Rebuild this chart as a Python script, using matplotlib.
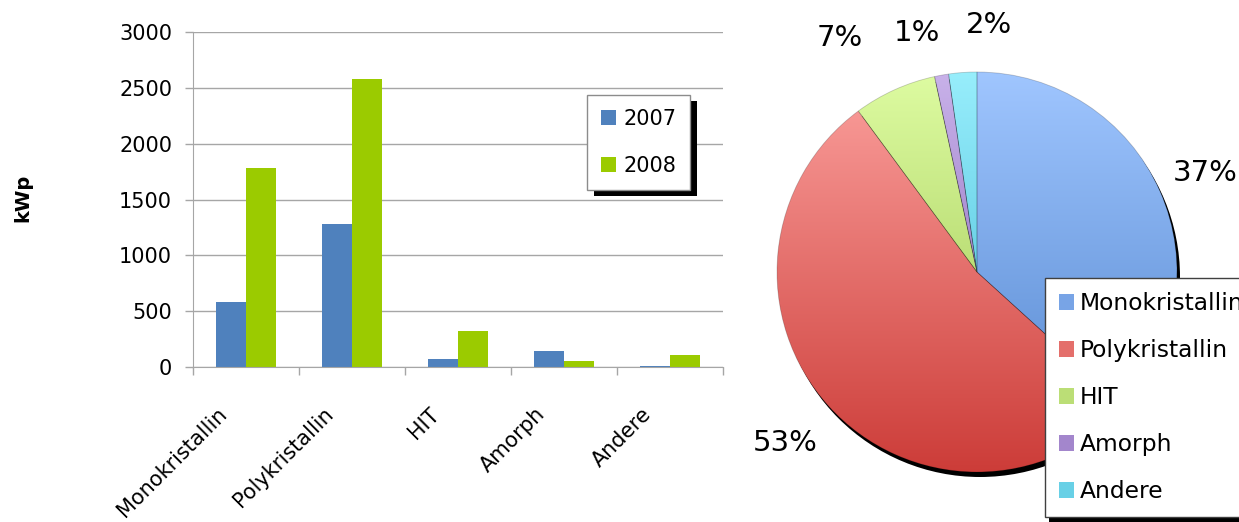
import numpy as np
import matplotlib
matplotlib.use("Agg")
import matplotlib.pyplot as plt
from matplotlib.colors import LinearSegmentedColormap, to_rgb
from matplotlib.patches import Rectangle, Circle, Patch
from matplotlib.transforms import ScaledTranslation

# Data
categories = ["Monokristallin", "Polykristallin", "HIT", "Amorph", "Andere"]
years = ["2007", "2008"]
kwp_2007 = [580, 1280, 72, 145, 10]
kwp_2008 = [1780, 2575, 325, 55, 110]
y_ticks = [0, 500, 1000, 1500, 2000, 2500, 3000]

# Styles
bar_colors = ["#4F81BD", "#9BCB00"]
pie_top = ["#A0C6FF", "#FCA19E", "#DEFCA2", "#C9B2EA", "#98EEFC"]
pie_bottom = ["#4F83CC", "#CC3C38", "#98C04A", "#7C5AAE", "#38B2D0"]
pct_pos = [(1.14, 0.495), (-0.96, -0.855), (-0.685, 1.17), (-0.30, 1.195), (0.06, 1.235)]
grey = "#A6A6A6"

plt.rcParams["font.family"] = ["DejaVu Sans"]

W, H = 1239, 522
fig = plt.figure(figsize=(W / 100, H / 100), dpi=100)

# ---- bar chart
ax = fig.add_axes([193 / W, 155 / H, 530 / W, 335 / H])
x = np.arange(len(categories))
bw = 0.286
ax.bar(x - bw / 2, kwp_2007, bw, color=bar_colors[0], label=years[0])
ax.bar(x + bw / 2, kwp_2008, bw, color=bar_colors[1], label=years[1])
ax.set_xlim(-0.5, len(categories) - 0.5)
ax.set_ylim(0, 3000)
ax.set_yticks(y_ticks)
ax.yaxis.grid(True, color=grey, lw=1)
ax.set_axisbelow(True)
for s in ["top", "right"]:
    ax.spines[s].set_visible(False)
for s in ["left", "bottom"]:
    ax.spines[s].set_color(grey)
ax.set_xticks(np.arange(len(categories) + 1) - 0.5)
ax.set_xticklabels([])
ax.set_xticks(x, categories, minor=True)
ax.tick_params(axis="x", which="major", length=6, width=1, color=grey)
ax.tick_params(axis="x", which="minor", length=0, labelsize=15, pad=0)
ax.tick_params(axis="y", length=6, width=1, color=grey, labelsize=15, pad=9)
for lbl in ax.get_xticklabels(minor=True):
    lbl.set_rotation(45)
    lbl.set_ha("right")
    lbl.set_va("center")
    lbl.set_rotation_mode("anchor")
    lbl.set_transform(lbl.get_transform()
                      + ScaledTranslation(-22 / 100, -44 / 100, fig.dpi_scale_trans))

fig.text(23 / W, 1 - 198 / H, "kWp", rotation=90, ha="center", va="center",
         fontsize=14, fontweight="bold")

leg = ax.legend(loc="upper left", bbox_to_anchor=(587 / W, 1 - 95 / H),
                bbox_transform=fig.transFigure, fontsize=15, fancybox=False,
                edgecolor="#8C8C8C", framealpha=1, borderpad=0.66,
                handlelength=0.72, handleheight=0.72, handletextpad=0.38,
                labelspacing=1.3, borderaxespad=0)

# ---- pie chart
pax = fig.add_axes([777 / W, 50 / H, 400 / W, 400 / H])
wedges, _ = pax.pie(kwp_2008, startangle=90, counterclock=False, radius=1,
                    wedgeprops=dict(linewidth=0.6, edgecolor=(0, 0, 0, 0.2)))
pax.add_patch(Circle((0.015, -0.025), 1.0, fc="black", ec="none", zorder=-1,
                     clip_on=False))
grad = np.linspace(0, 1, 256).reshape(-1, 1)
for wdg, c0, c1 in zip(wedges, pie_bottom, pie_top):
    cmap = LinearSegmentedColormap.from_list("g", [c0, c1])
    im = pax.imshow(grad, cmap=cmap, extent=(-1.01, 1.01, -1.01, 1.01),
                    origin="lower", aspect="auto", zorder=0.5,
                    interpolation="bilinear")
    im.set_clip_path(wdg)
    wdg.set_facecolor("none")
pax.set_xlim(-1, 1)
pax.set_ylim(-1, 1)
pax.set_aspect("equal")
pax.axis("off")

total = sum(kwp_2008)
for v, (px, py) in zip(kwp_2008, pct_pos):
    pax.text(px, py, f"{100 * v / total:.0f}%", fontsize=21,
             ha="center", va="center")

handles = [Patch(facecolor=tuple((a + b) / 2 for a, b in zip(to_rgb(c0), to_rgb(c1))))
           for c0, c1 in zip(pie_bottom, pie_top)]
pleg = pax.legend(handles, categories, loc="upper left",
                  bbox_to_anchor=(1045 / W, 1 - 278 / H),
                  bbox_transform=fig.transFigure, fontsize=16.8, fancybox=False,
                  edgecolor="#404040", framealpha=1, borderpad=0.6,
                  handlelength=0.65, handleheight=0.65, handletextpad=0.25,
                  labelspacing=1.03, borderaxespad=0)

# legend shadows
fig.canvas.draw()
for lg, host, (ox, oy) in [(leg, ax, (7, 6)), (pleg, pax, (4, 5))]:
    bb = lg.get_window_extent()
    host.add_artist(Rectangle((bb.x0 + ox, bb.y0 - oy), bb.width, bb.height,
                              transform=None, fc="black", ec="none",
                              zorder=4.9, clip_on=False))

fig.savefig("out.png", dpi=100)
